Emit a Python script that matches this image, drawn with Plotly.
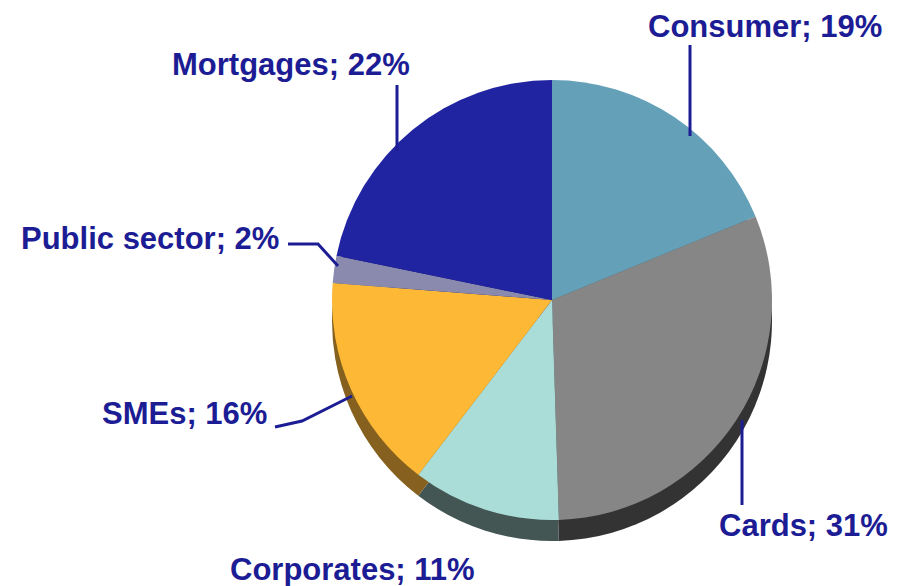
import plotly.graph_objects as go

# ---- data ----
categories = ["Consumer", "Cards", "Corporates", "SMEs", "Public sector", "Mortgages"]
shares = [19, 31, 11, 16, 2, 22]

face_colors = ["#64A0B8", "#868686", "#AADCD8", "#FDB935", "#8A8AAE", "#2124A0"]
side_colors = ["#3F6A7C", "#333333", "#435654", "#86601E", "#5A5A78", "#14166A"]

# page body has an 8px margin; work in window pixels and convert
OFF = 8
W, H = 901 - OFF, 586 - OFF
CX, CY, R = 552, 300, 220
DEPTH = 21
TEXT_COLOR = "#1C1C94"

def px(x):
    return (x - OFF) / W

def py(y):
    return 1 - (y - OFF) / H

def domain(cy):
    return dict(x=[px(CX - R), px(CX + R)], y=[py(cy + R), py(cy - R)])

fig = go.Figure()

# side (depth) of the pie
fig.add_trace(go.Pie(
    labels=categories, values=shares, sort=False, direction="clockwise",
    rotation=0, marker=dict(colors=side_colors, line=dict(width=0)),
    textinfo="none", hoverinfo="skip", showlegend=False,
    domain=domain(CY + DEPTH),
))
# top face
fig.add_trace(go.Pie(
    labels=categories, values=shares, sort=False, direction="clockwise",
    rotation=0, marker=dict(colors=face_colors, line=dict(width=0)),
    textinfo="none", showlegend=False,
    domain=domain(CY),
))

# label placement (window pixels) and leader lines
label_pos = {
    "Consumer": (765, 27),
    "Cards": (803, 525),
    "Corporates": (352, 569),
    "SMEs": (184, 413),
    "Public sector": (150, 238),
    "Mortgages": (291, 64),
}
leaders = [
    [(397, 85), (397, 151)],
    [(690, 45), (690, 136)],
    [(288, 244), (318, 244), (338, 266)],
    [(275, 427), (302, 421), (352, 396)],
    [(742, 420), (742, 505)],
]

annotations = []
for cat, val in zip(categories, shares):
    x, y = label_pos[cat]
    annotations.append(dict(
        x=px(x), y=py(y), xref="paper", yref="paper",
        text=f"<b>{cat}; {val}%</b>", showarrow=False,
        xanchor="center", yanchor="middle",
        font=dict(family="Liberation Sans, Arial, sans-serif", size=31, color=TEXT_COLOR),
    ))

shapes = []
for pts in leaders:
    path = "M " + " L ".join(f"{px(x)},{py(y)}" for x, y in pts)
    shapes.append(dict(type="path", path=path, xref="paper", yref="paper",
                       line=dict(color=TEXT_COLOR, width=3)))

fig.update_layout(
    width=W, height=H,
    margin=dict(l=0, r=0, t=0, b=0),
    paper_bgcolor="white", plot_bgcolor="white",
    annotations=annotations, shapes=shapes,
)

fig.write_html("out.html")
